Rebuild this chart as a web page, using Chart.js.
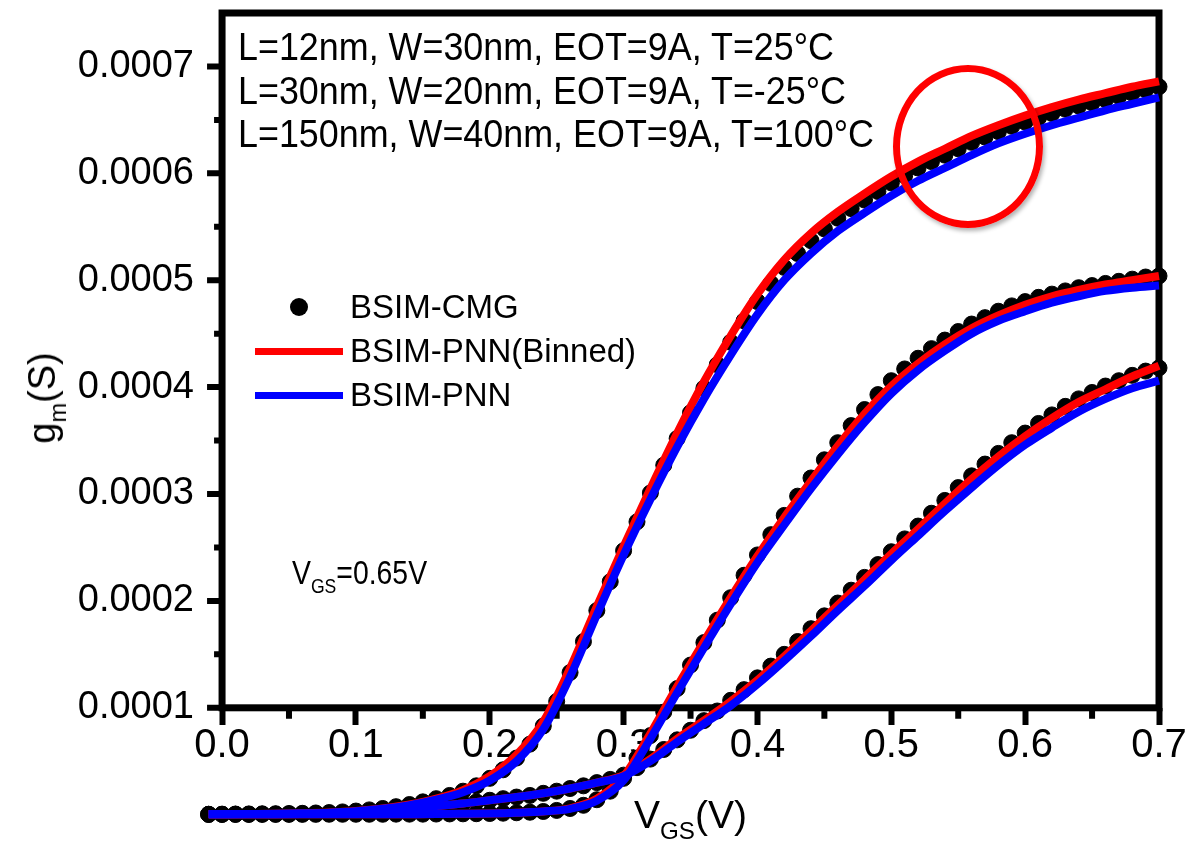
<!DOCTYPE html>
<html lang="en">
<head>
  <meta charset="UTF-8">
  <title>gm vs VGS</title>
  <script src="https://cdn.jsdelivr.net/npm/chart.js"></script>
  <style>
    body {
      margin: 0;
      background: #fff;
      font-family: 'Liberation Sans', Arial, Helvetica, sans-serif;
      color: #000;
      overflow: hidden;
    }
    .wrap {
      position: relative;
      width: 1185px;
      height: 844px;
    }
    .wrap canvas {
      position: absolute;
      left: 0;
      top: 0;
    }
    .txt {
      position: absolute;
      white-space: nowrap;
      line-height: 1;
      pointer-events: none;
    }
    .sub {
      position: relative;
      top: 0.45em;
      font-size: 0.62em;
    }
    .conditions {
      left: 238px;
      top: 25px;
      font-size: 39px;
      line-height: 43.5px;
      transform: scaleX(0.92);
      transform-origin: left top;
    }
    .legend {
      position: absolute;
      left: 255px;
      top: 285px;
      pointer-events: none;
    }
    .legend .row {
      position: relative;
      height: 44px;
      font-size: 33px;
      line-height: 44px;
      padding-left: 95px;
      white-space: nowrap;
    }
    .legend .dot {
      position: absolute;
      left: 35px;
      top: 13px;
      width: 18px;
      height: 18px;
      border-radius: 50%;
      background: #000;
    }
    .legend .line {
      position: absolute;
      left: 0;
      top: 19px;
      width: 88px;
      height: 7px;
    }
    .ring {
      position: absolute;
      left: 893px;
      top: 65px;
      width: 150px;
      height: 163px;
      box-sizing: border-box;
      border: 7px solid #ff0000;
      border-radius: 50%;
      box-shadow: 2px 3px 4px rgba(0, 0, 0, 0.3);
      pointer-events: none;
    }
  </style>
</head>
<body>
  <div class="wrap">
    <canvas id="gmChart" width="1185" height="844"></canvas>

    <div class="txt conditions">
      L=12nm, W=30nm, EOT=9A, T=25°C<br>
      L=30nm, W=20nm, EOT=9A, T=-25°C<br>
      L=150nm, W=40nm, EOT=9A, T=100°C
    </div>

    <div class="legend">
      <div class="row"><span class="dot"></span>BSIM-CMG</div>
      <div class="row"><span class="line" style="background:#ff0000"></span>BSIM-PNN(Binned)</div>
      <div class="row"><span class="line" style="background:#0000ff"></span>BSIM-PNN</div>
    </div>

    <div class="txt" style="left:292px; top:556px; font-size:33px; transform:scaleX(0.86); transform-origin:left top;">V<span class="sub">GS</span>=0.65V</div>

    <div class="txt" style="left:634px; top:795px; font-size:39px;">V<span class="sub">GS</span>(V)</div>

    <div class="txt" style="left:42px; top:398px; font-size:38px; transform:translate(-50%,-50%) rotate(-90deg);">g<span class="sub">m</span>(S)</div>

    <div class="ring"></div>
  </div>

  <script>
    // sweep points, V
    const VGS_DOTS = [-0.01, 0.00, 0.01, 0.02, 0.03, 0.04, 0.05, 0.06, 0.07, 0.08, 0.09,
      0.10, 0.11, 0.12, 0.13, 0.14, 0.15, 0.16, 0.17, 0.18, 0.19,
      0.20, 0.21, 0.22, 0.23, 0.24, 0.25, 0.26, 0.27, 0.28, 0.29,
      0.30, 0.31, 0.32, 0.33, 0.34, 0.35, 0.36, 0.37, 0.38, 0.39,
      0.40, 0.41, 0.42, 0.43, 0.44, 0.45, 0.46, 0.47, 0.48, 0.49,
      0.50, 0.51, 0.52, 0.53, 0.54, 0.55, 0.56, 0.57, 0.58, 0.59,
      0.60, 0.61, 0.62, 0.63, 0.64, 0.65, 0.66, 0.67, 0.68, 0.69, 0.70];
    const VGS_LINES = [-0.01, 0.00, 0.02, 0.04, 0.06, 0.08, 0.10, 0.12, 0.14, 0.16, 0.18,
      0.20, 0.22, 0.24, 0.26, 0.28, 0.30, 0.32, 0.34, 0.36, 0.38,
      0.40, 0.42, 0.44, 0.46, 0.48, 0.50, 0.52, 0.54, 0.56, 0.58,
      0.60, 0.62, 0.64, 0.66, 0.68, 0.70];

    // gm in uS
    const CMG_L12 = [0.4, 0.5, 0.6, 0.7, 0.8, 0.9, 1.1, 1.3, 1.6, 2.0, 2.6,
      3.4, 4.5, 5.8, 7.5, 9.5, 12, 15, 18, 22, 27,
      34, 42, 53, 66, 83, 106, 133, 162, 191, 218,
      247, 274, 301, 327, 352, 376, 399, 421, 442, 462,
      480, 497, 512, 525, 537, 548, 558, 567, 575, 583,
      591, 598, 605, 611, 617, 623, 629, 634, 639, 644,
      648, 652, 656, 660, 663, 666, 669, 672, 675, 678, 681];
    const CMG_L30 = [0.3, 0.3, 0.3, 0.3, 0.3, 0.3, 0.3, 0.3, 0.3, 0.4, 0.4,
      0.4, 0.4, 0.4, 0.5, 0.5, 0.5, 0.6, 0.7, 0.8, 0.9,
      1.1, 1.4, 1.8, 2.3, 3.0, 4.0, 5.8, 8.8, 14, 22,
      34, 53, 74, 96, 118, 140, 161, 182, 203, 224,
      243, 262, 280, 298, 315, 332, 348, 364, 379, 393,
      406, 417, 427, 436, 444, 452, 459, 465, 471, 476,
      480, 484, 487, 490, 493, 495, 497, 499, 501, 503, 504];
    const CMG_L150 = [0.3, 0.3, 0.4, 0.4, 0.5, 0.5, 0.6, 0.7, 0.9, 1.1, 1.5,
      2.0, 2.7, 3.5, 4.4, 5.5, 6.7, 8.0, 9.2, 10.5, 12,
      13.5, 15, 16.5, 18, 20, 22, 24.5, 27, 30, 33,
      37, 44, 52, 61, 70, 79, 88, 97, 107, 117,
      128, 139, 150, 162, 174, 186, 198, 210, 222, 234,
      246, 258, 270, 282, 294, 306, 317, 328, 338, 348,
      357, 366, 374, 382, 389, 395, 401, 406, 411, 415, 418];

    const PNN_BIN_L12 = [0.4, 0.5, 0.7, 0.9, 1.3, 2.0, 3.4, 5.8, 9.5, 15, 23,
      36, 56, 87, 137, 195, 251, 305, 357, 405, 448,
      487, 519, 544, 564, 581, 597, 611, 623, 635, 645,
      654, 662, 669, 675, 681, 686];
    const PNN_BIN_L30 = [0.3, 0.3, 0.3, 0.3, 0.3, 0.4, 0.4, 0.4, 0.5, 0.6, 0.8,
      1.1, 1.8, 3.0, 6.0, 15, 36, 76, 120, 162, 203,
      242, 278, 312, 345, 375, 401, 422, 440, 455, 467,
      477, 485, 491, 496, 500, 504];
    const PNN_BIN_L150 = [0.3, 0.3, 0.4, 0.5, 0.7, 1.1, 2.0, 3.5, 5.5, 8.0, 10.5,
      13.5, 16.5, 20, 24.5, 30, 37, 52, 71, 88, 106,
      126, 148, 172, 196, 220, 244, 267, 291, 314, 335,
      354, 371, 386, 398, 410, 420];

    const PNN_L12 = [0.4, 0.5, 0.7, 0.9, 1.3, 1.9, 3.2, 5.5, 9, 14, 21,
      32, 50, 80, 129, 187, 243, 295, 344, 389, 430,
      468, 500, 525, 546, 563, 579, 593, 605, 617, 628,
      637, 645, 652, 659, 665, 671];
    const PNN_L30 = [0.3, 0.3, 0.3, 0.3, 0.3, 0.4, 0.4, 0.4, 0.5, 0.6, 0.8,
      1.1, 1.8, 3.0, 5.5, 13, 32, 71, 114, 156, 197,
      236, 271, 305, 337, 367, 394, 416, 434, 450, 462,
      471, 479, 485, 490, 493, 495];
    const PNN_L150 = [0.3, 0.3, 0.4, 0.5, 0.7, 1.1, 2.0, 3.5, 5.5, 8.0, 10.5,
      13.5, 16.5, 20, 24.5, 30, 36, 50, 68, 85, 102,
      122, 144, 167, 191, 214, 238, 261, 284, 306, 327,
      346, 362, 377, 389, 399, 406];

    // axis ticks (uS on y, V on x)
    const Y_TICKS = [100, 200, 300, 400, 500, 600, 700];
    const Y_MINOR = [150, 250, 350, 450, 550, 650];
    const X_TICKS = [0.0, 0.1, 0.2, 0.3, 0.4, 0.5, 0.6, 0.7];
    const X_MINOR = [0.05, 0.15, 0.25, 0.35, 0.45, 0.55, 0.65];

    const FONT = "'Liberation Sans', Arial, Helvetica, sans-serif";
    Chart.defaults.font.family = FONT;
    Chart.defaults.color = '#000';

    function pairs(xs, ys) {
      return xs.map((x, i) => ({ x: x, y: ys[i] }));
    }

    function dotSet(ys) {
      return {
        data: pairs(VGS_DOTS, ys),
        showLine: false,
        pointRadius: 8,
        pointBackgroundColor: '#000',
        pointBorderColor: '#000',
        pointBorderWidth: 1,
        clip: false,
        order: 3
      };
    }

    function lineSet(ys, color, order) {
      return {
        data: pairs(VGS_LINES, ys),
        borderColor: color,
        borderWidth: 8,
        pointRadius: 0,
        cubicInterpolationMode: 'monotone',
        fill: false,
        clip: false,
        order: order
      };
    }

    // box, tick marks
    const frame = {
      id: 'frame',
      beforeDatasetsDraw(chart) {
        const x = chart.scales.x, y = chart.scales.y, ctx = chart.ctx;
        const left = x.getPixelForValue(0);
        const right = x.getPixelForValue(0.7);
        const bottom = y.getPixelForValue(100);
        const top = chart.chartArea.top;
        ctx.save();
        ctx.strokeStyle = '#000';
        ctx.lineWidth = 7;
        ctx.strokeRect(left, top, right - left, bottom - top);

        ctx.lineWidth = 6;
        ctx.beginPath();
        Y_TICKS.forEach(v => {
          const py = y.getPixelForValue(v);
          ctx.moveTo(left - 15, py);
          ctx.lineTo(left, py);
        });
        Y_MINOR.forEach(v => {
          const py = y.getPixelForValue(v);
          ctx.moveTo(left - 8, py);
          ctx.lineTo(left, py);
        });
        X_MINOR.forEach(v => {
          const px = x.getPixelForValue(v);
          ctx.moveTo(px, bottom);
          ctx.lineTo(px, bottom + 11);
        });
        ctx.stroke();
        ctx.restore();
      }
    };

    new Chart(document.getElementById('gmChart'), {
      type: 'line',
      data: {
        datasets: [
          lineSet(PNN_L12, '#0000ff', 1),
          lineSet(PNN_L30, '#0000ff', 1),
          lineSet(PNN_L150, '#0000ff', 1),
          lineSet(PNN_BIN_L12, '#ff0000', 2),
          lineSet(PNN_BIN_L30, '#ff0000', 2),
          lineSet(PNN_BIN_L150, '#ff0000', 2),
          dotSet(CMG_L12),
          dotSet(CMG_L30),
          dotSet(CMG_L150)
        ]
      },
      options: {
        responsive: false,
        animation: false,
        events: [],
        layout: { padding: { left: 0, top: 13, right: 26, bottom: 1 } },
        plugins: {
          legend: { display: false },
          tooltip: { enabled: false }
        },
        scales: {
          x: {
            type: 'linear',
            min: -0.012,
            max: 0.7,
            position: { y: 100 },
            border: { display: false },
            grid: { drawOnChartArea: false, drawTicks: true, tickLength: 17, tickWidth: 6, tickColor: '#000' },
            afterBuildTicks: axis => { axis.ticks = X_TICKS.map(v => ({ value: v })); },
            afterFit: axis => { axis.paddingLeft = 0; axis.paddingRight = 0; },
            ticks: {
              autoSkip: false,
              maxRotation: 0,
              padding: 1,
              font: { size: 40, lineHeight: 1 },
              callback: v => Number(v).toFixed(1)
            }
          },
          y: {
            type: 'linear',
            min: -19,
            max: 750,
            position: 'left',
            border: { display: false },
            grid: { display: false, drawTicks: false },
            afterBuildTicks: axis => { axis.ticks = Y_TICKS.map(v => ({ value: v })); },
            afterFit: axis => { axis.width = 206; axis.paddingTop = 0; axis.paddingBottom = 0; },
            ticks: {
              padding: 12,
              font: { size: 38, lineHeight: 1 },
              callback: v => (v / 1e6).toFixed(4)
            }
          }
        }
      },
      plugins: [frame]
    });
  </script>
</body>
</html>
